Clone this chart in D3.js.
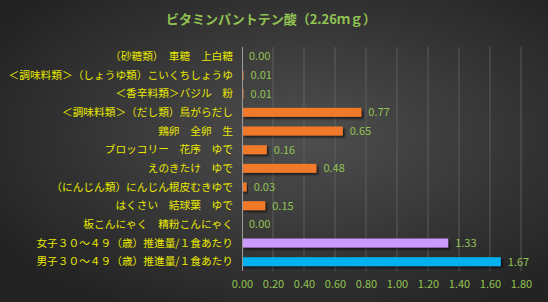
<!DOCTYPE html>
<html><head><meta charset="utf-8">
<script src="https://cdn.jsdelivr.net/npm/d3@7/dist/d3.min.js"></script>
<style>html,body{margin:0;padding:0;background:#333;}svg{display:block;}</style>
</head><body>
<svg id="c" width="548" height="302"></svg>
<script>
const title = "ビタミンパントテン酸（2.26ｍｇ）";
const categories = [
  "（砂糖類）　車糖　上白糖",
  "＜調味料類＞（しょうゆ類）こいくちしょうゆ",
  "＜香辛料類＞バジル　粉",
  "＜調味料類＞（だし類）鳥がらだし",
  "鶏卵　全卵　生",
  "ブロッコリー　花序　ゆで",
  "えのきたけ　ゆで",
  "（にんじん類）にんじん根皮むきゆで",
  "はくさい　結球葉　ゆで",
  "板こんにゃく　精粉こんにゃく",
  "女子３０～４９（歳）推進量/１食あたり",
  "男子３０～４９（歳）推進量/１食あたり"
];
const values = [0.00, 0.01, 0.01, 0.77, 0.65, 0.16, 0.48, 0.03, 0.15, 0.00, 1.33, 1.67];
const colors = ["#f07a2a","#f07a2a","#f07a2a","#f07a2a","#f07a2a","#f07a2a","#f07a2a","#f07a2a","#f07a2a","#f07a2a","#cc99ff","#00b0f0"];
const ticks = [0,0.2,0.4,0.6,0.8,1.0,1.2,1.4,1.6,1.8];

const svg = d3.select("#c");
const W = 548, H = 302;
const defs = svg.append("defs");
const rg = defs.append("radialGradient").attr("id","bg").attr("cx","55%").attr("cy","45%").attr("r","65%");
rg.append("stop").attr("offset","0%").attr("stop-color","#4f4f4f");
rg.append("stop").attr("offset","100%").attr("stop-color","#232323");
const f = defs.append("filter").attr("id","sh").attr("x","-10%").attr("y","-50%").attr("width","130%").attr("height","250%");
f.append("feDropShadow").attr("dx",2).attr("dy",2).attr("stdDeviation",1.2).attr("flood-color","#000").attr("flood-opacity",0.6);

svg.append("rect").attr("width",W).attr("height",H).attr("fill","url(#bg)");

const x = d3.scaleLinear().domain([0,1.8]).range([242,521]);
const y = d3.scaleBand().domain(categories).range([47,271]).paddingInner(0.52).paddingOuter(0.26);

const font = "'Noto Sans CJK JP','Noto Sans',sans-serif";

svg.append("text").attr("x",271).attr("y",24).attr("text-anchor","middle")
  .attr("font-family",font).attr("font-size",13).attr("font-weight","bold")
  .attr("fill","#92c353").text(title);

// gridlines
svg.append("g").selectAll("line").data(ticks.slice(1)).join("line")
  .attr("x1",d=>x(d)).attr("x2",d=>x(d)).attr("y1",47).attr("y2",271)
  .attr("stroke","#6a6a6a").attr("stroke-width",1).attr("opacity",0.7);

// x axis ticks
const xa = svg.append("g").attr("transform","translate(0,271)").call(d3.axisBottom(x).tickValues(ticks).tickFormat(d3.format(".2f")).tickSize(0).tickPadding(9));
xa.select(".domain").remove();
xa.selectAll("text").attr("font-family",font).attr("font-size",11).attr("fill","#92c353");

// bars
svg.append("g").selectAll("rect").data(values).join("rect")
  .attr("x",x(0)).attr("y",(d,i)=>y(categories[i]))
  .attr("width",d=>Math.max(0,x(d)-x(0))).attr("height",y.bandwidth())
  .attr("fill",(d,i)=>colors[i]).attr("filter","url(#sh)");

// y axis line
svg.append("line").attr("x1",x(0)+0.5).attr("x2",x(0)+0.5).attr("y1",47).attr("y2",271).attr("stroke","#9a9a9a");

// category labels
svg.append("g").selectAll("text").data(categories).join("text")
  .attr("x",233).attr("y",d=>y(d)+y.bandwidth()/2).attr("dy","0.35em")
  .attr("text-anchor","end").attr("font-family",font).attr("font-size",10.7)
  .attr("fill","#e8e800").text(d=>d);

// value labels
svg.append("g").selectAll("text").data(values).join("text")
  .attr("x",d=>x(d)+7).attr("y",(d,i)=>y(categories[i])+y.bandwidth()/2).attr("dy","0.35em")
  .attr("font-family",font).attr("font-size",11).attr("fill","#92c353")
  .text(d=>d3.format(".2f")(d));
</script>
</body></html>
